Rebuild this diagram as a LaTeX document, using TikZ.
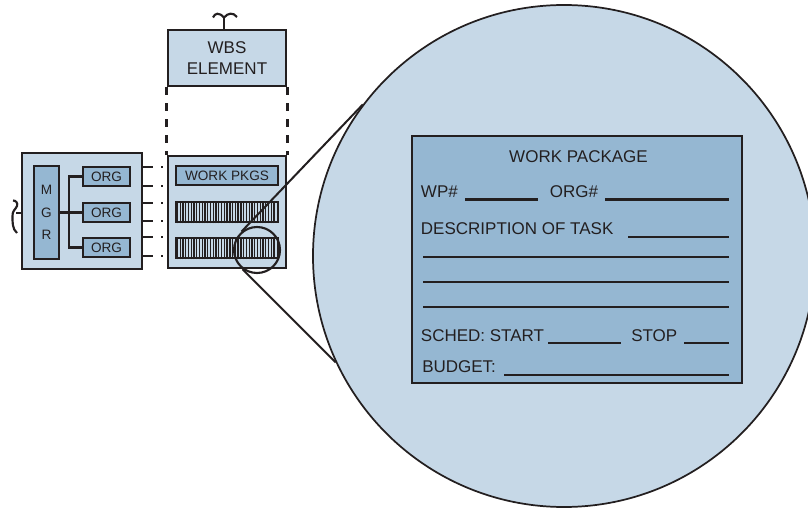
\documentclass[tikz,border=0pt]{standalone}
\usepackage{fontspec}
\setmainfont{Liberation Sans}
\definecolor{ink}{HTML}{231F20}
\definecolor{lightblue}{HTML}{C6D8E7}
\definecolor{midblue}{HTML}{95B7D2}
\begin{document}
\begin{tikzpicture}[x=0.75pt,y=-0.75pt,
  every node/.style={text=ink},
  box/.style={draw=ink,line width=2pt,rectangle,inner sep=0pt},
  outerbox/.style={box,fill=lightblue},
  innerbox/.style={box,fill=midblue,font=\fontsize{10.2}{12}\selectfont},
  barbox/.style={box,fill=lightblue,minimum width=76.5pt,minimum height=15pt},
  stripe/.style={draw=ink,line width=1pt},
  link/.style={draw=ink,line width=1.8pt},
  vdash/.style={draw=ink,line width=2pt,dash pattern=on 6pt off 6pt},
  hdash/.style={draw=ink,line width=2pt,dash pattern=on 7.5pt off 6pt on 1.5pt off 10pt},
  formline/.style={draw=ink,line width=1.6pt},
  formtext/.style={anchor=base west,inner sep=0pt,font=\fontsize{12.75}{15}\selectfont},
  zoomline/.style={draw=ink,line width=1.5pt}
]
\useasboundingbox (0,0) rectangle (808,510);

% big magnified circle
\node[circle,draw=ink,line width=1.3pt,fill=lightblue,minimum size=376.5pt,inner sep=0pt] (big) at (564,256) {};

% left organisation box
\node[outerbox,minimum width=90pt,minimum height=87pt] (L) at (82,211) {};
\node[innerbox,minimum width=18.75pt,minimum height=69.75pt,align=center,
      font=\fontsize{10.2}{16.9}\selectfont] (mgr) at (46.5,212.5) {M\\G\\R};
\node[innerbox,minimum width=35.25pt,minimum height=14.25pt] (org1) at (106.5,176.5) {ORG};
\node[innerbox,minimum width=35.25pt,minimum height=14.25pt] (org2) at (106.5,212.5) {ORG};
\node[innerbox,minimum width=35.25pt,minimum height=14.25pt] (org3) at (106.5,247.5) {ORG};
\coordinate (j) at (69,212.5);
\draw[link] (org1.west) -| (j) |- (org3.west);
\draw[link] (mgr.east) -- (org2.west);

% break symbol left
\coordinate (brk) at (16,213);
\draw[link] (L.west |- brk) -- (brk);
\draw[ink,line width=1.6pt] (13,200.5) .. controls (16,200.5) and (18,203) .. (17,206)
  .. controls (16,209) and (12,211) .. (12.5,216) .. controls (12.5,221) and (12,229) .. (17,233);

% WBS element
\node[outerbox,minimum width=88.5pt,minimum height=42pt,align=center,
      font=\fontsize{12.75}{15.75}\selectfont] (wbs) at (227,58) {WBS\\ELEMENT};
\coordinate (t) at (224,18);
\draw[link] (t) -- (t |- wbs.north);
\draw[ink,line width=1.6pt] (213,17.5) .. controls (215,13) and (219,12) .. (224,17.5)
  .. controls (228,13) and (233,12) .. (237,17);

% work packages box
\node[outerbox,minimum width=88.5pt,minimum height=84pt] (W) at (227,212) {};
\node[innerbox,minimum width=76.5pt,minimum height=14.25pt] (wpk) at (227,175.5) {WORK PKGS};
\node[barbox] (b1) at (227,212) {};
\node[barbox] (b2) at (227,248) {};
\foreach \b in {b1,b2}{
  \begin{scope}
    \clip (\b.south west) rectangle (\b.north east);
    \foreach \i in {1,...,36}
      \draw[stripe] ([xshift=\i*2.07pt]\b.south west) -- ([xshift=\i*2.07pt]\b.north west);
  \end{scope}
  \node[box,fill=none,minimum width=76.5pt,minimum height=15pt] at (\b) {};
}

% dashed links
\draw[vdash] (wbs.south west) -- (W.north west);
\draw[vdash] (wbs.south east) -- (W.north east);
\foreach \y in {167,186,203,221,237,256}
  \draw[hdash] (L.east |- 0,\y) -- (W.west |- 0,\y);

% magnifier
\node[circle,draw=ink,line width=1.6pt,minimum size=34.5pt,inner sep=0pt] (sc) at (257,250) {};
\draw[zoomline] (sc.130) -- (big.143.4);
\draw[zoomline] (sc.233.6) -- (big.205);

% work package form
\node[rectangle,draw=ink,line width=2pt,fill=midblue,minimum width=247.5pt,minimum height=185.25pt,inner sep=0pt] (form) at (577,259.5) {};
\node[anchor=base,inner sep=0pt,font=\fontsize{12.75}{15}\selectfont] (title) at (578.5,162) {WORK PACKAGE};
\node[formtext] (wp) at (420.7,198) {WP\#};
\node[formtext] (org) at (549.7,198) {ORG\#};
\node[formtext] (desc) at (420.7,234) {DESCRIPTION OF TASK};
\node[formtext] (sched) at (420.7,341.5) {SCHED: START};
\node[formtext] (stop) at (631,341.5) {STOP};
\node[formtext] (budget) at (422,372.3) {BUDGET:};
\draw[formline] (465,199.5) -- (538,199.5);
\draw[formline] (605,199.5) -- (729,199.5);
\draw[formline] (628,236.7) -- (729,236.7);
\draw[formline] (423,257.3) -- (729,257.3);
\draw[formline] (423,282.3) -- (729,282.3);
\draw[formline] (423,307.3) -- (729,307.3);
\draw[formline] (548,342.7) -- (621,342.7);
\draw[formline] (684,342.7) -- (729,342.7);
\draw[formline] (504,375) -- (729,375);
\end{tikzpicture}
\end{document}
